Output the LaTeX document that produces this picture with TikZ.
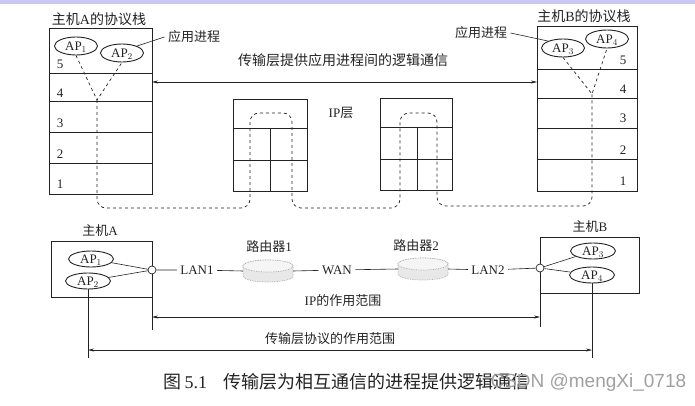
\documentclass[tikz,border=0pt]{standalone}
\usepackage{fontspec}
\setmainfont{Liberation Serif}
\newfontfamily\cjk{Noto Sans CJK SC}
\newfontfamily\wmfont{Liberation Sans}
\usetikzlibrary{shapes.geometric,arrows.meta}
\definecolor{topbar}{RGB}{200,200,242}
\definecolor{ink}{RGB}{35,35,35}
\definecolor{wmark}{RGB}{160,160,160}

\begin{document}
\begin{tikzpicture}[x=1pt,y=-1pt,color=ink,
  box/.style={draw=ink, line width=1pt},
  sep/.style={draw=ink, line width=0.6pt},
  ap/.style={draw=ink, ellipse, line width=0.9pt, inner sep=0pt,
    minimum width=43pt, minimum height=18pt, text height=8.5pt, text depth=0pt,
    font=\fontsize{13}{13}\selectfont},
  apl/.style={ap, minimum width=45pt, minimum height=16pt},
  num/.style={font=\fontsize{13}{13}\selectfont},
  net/.style={font=\fontsize{13}{13}\selectfont},
  lbl/.style={font=\fontsize{14}{14}\selectfont\cjk},
  slbl/.style={font=\fontsize{13}{13}\selectfont\cjk},
  captxt/.style={font=\fontsize{18}{18}\selectfont\cjk, anchor=west},
  vee/.style={draw=ink, dashed, line width=0.7pt},
  route/.style={vee, rounded corners=9pt},
  rng/.style={draw=ink, line width=0.6pt,
    {Stealth[length=6pt,width=3pt]}-{Stealth[length=6pt,width=3pt]}},
  joint/.style={draw=ink, circle, fill=white, inner sep=0pt, minimum size=8pt, line width=0.7pt},
  router/.pic={
    \path[fill=gray!18, draw=gray!70, densely dotted, line width=0.7pt]
      (-25pt,5pt) -- (-25pt,-5pt) arc (180:360:25pt and 6pt) -- (25pt,5pt)
      arc (0:180:25pt and 6pt) -- cycle;
    \path[fill=gray!8, draw=gray!70, densely dotted, line width=0.7pt]
      (0pt,5pt) ellipse (25pt and 6pt);
    \coordinate (-w) at (-25pt,0pt);
    \coordinate (-e) at (25pt,0pt);
  }]
\useasboundingbox (0,0) rectangle (695,406);
\fill[topbar] (0,0) rectangle (695,4);

% 主机A的协议栈
\node[lbl] (titleA) at (99,19) {主机{\rmfamily A}的协议栈};
\draw[box] (49,29) rectangle (152,194);
\foreach \y in {73,101,132,163} \draw[sep] (49,\y) -- (152,\y);
\foreach \n/\y in {5/64,4/93,3/123,2/154,1/184} \node[num] at (60,\y) {\n};
\node[ap] (apA1) at (76,46) {AP$_1$};
\node[ap] (apA2) at (122,53) {AP$_2$};
\node[slbl] (procA) at (194,37) {应用进程};
\draw[sep] (procA.west) -- (apA2.25);
\coordinate (vA) at (97,100);
\draw[vee] (apA1.south) -- (vA) -- (apA2.south);

% 主机B的协议栈
\node[lbl] (titleB) at (584,16) {主机{\rmfamily B}的协议栈};
\draw[box] (537,27) rectangle (637,191);
\foreach \y in {69,98,128,159} \draw[sep] (537,\y) -- (637,\y);
\foreach \n/\y in {5/60,4/89,3/118,2/150,1/181} \node[num] at (623,\y) {\n};
\node[ap] (apB3) at (563,48) {AP$_3$};
\node[ap] (apB4) at (607,39) {AP$_4$};
\node[slbl] (procB) at (481,33) {应用进程};
\draw[sep] (procB.east) -- (apB3.155);
\coordinate (vB) at (592,94);
\draw[vee] (apB3.south) -- (vB) -- (apB4.south);

% 逻辑通信
\coordinate (lcA) at (152,82);
\coordinate (lcB) at (537,82);
\draw[rng] (lcA) -- (lcB);
\node[lbl] (logic) at (343,60) {传输层提供应用进程间的逻辑通信};

% 两个路由器的IP层
\draw[box] (233,100) rectangle (307,191);
\draw[sep] (233,128) -- (307,128) (233,160) -- (307,160) (270,128) -- (270,191);
\draw[box] (380,99) rectangle (452,190);
\draw[sep] (380,127) -- (452,127) (380,159) -- (452,159) (417,127) -- (417,190);
\node[slbl] (iplayer) at (341,113) {{\rmfamily IP}层};
\draw[route] (vA) -- (97,208) -- (250,208) -- (250,113) -- (292,113) -- (292,208)
  -- (400,208) -- (400,113) -- (437,113) -- (437,206) -- (592,206) -- (vB);

% 主机A
\node[slbl] (hostA) at (100,231) {主机{\rmfamily A}};
\draw[box] (51,241) rectangle (152,297);
\node[apl] (lapA1) at (91,259) {AP$_1$};
\node[apl] (lapA2) at (88,281) {AP$_2$};
\node[joint] (jA) at (152,270) {};
\draw[sep] (lapA1) -- (jA);
\draw[sep] (lapA2) -- (jA);

% 网络
\node[net] (lan1) at (197,270) {LAN1};
\pic (r1) at (268,271) {router};
\node[slbl] (r1lab) at (269,247) {路由器{\rmfamily 1}};
\node[net] (wan) at (337,270) {WAN};
\pic (r2) at (423,269) {router};
\node[slbl] (r2lab) at (416,246) {路由器{\rmfamily 2}};
\node[net] (lan2) at (488,270) {LAN2};
\draw[sep] (jA) -- (lan1) -- (r1-w);
\draw[sep] (r1-e) -- (wan) -- (r2-w);

% 主机B
\node[slbl] (hostB) at (590,227) {主机{\rmfamily B}};
\draw[box] (540,237) rectangle (639,293);
\node[apl] (lapB3) at (593,251) {AP$_3$};
\node[apl] (lapB4) at (592,275) {AP$_4$};
\node[joint] (jB) at (540,268) {};
\draw[sep] (r2-e) -- (lan2) -- (jB);
\draw[sep] (jB) -- (lapB3);
\draw[sep] (jB) -- (lapB4);

% 作用范围
\coordinate (ipA) at (152,330);
\coordinate (ipB) at (540,327);
\coordinate (tpA) at (88,358);
\coordinate (tpB) at (592,358);
\draw[sep] (jA) -- (ipA);
\draw[sep] (jB) -- (ipB);
\draw[sep] (lapA2) -- (tpA);
\draw[sep] (lapB4) -- (tpB);
\coordinate (ipL) at (152,317);
\coordinate (ipR) at (540,317);
\draw[rng] (ipL) -- (ipR);
\node[slbl] (iprange) at (343,301) {{\rmfamily IP}的作用范围};
\coordinate (tpL) at (88,350);
\coordinate (tpR) at (592,350);
\draw[rng] (tpL) -- (tpR);
\node[slbl] (tprange) at (330,339) {传输层协议的作用范围};

% 图题
\node[captxt] (capnum) at (160,382) {图\,{\rmfamily 5.1}};
\node[captxt] (captext) at (220,382) {传输层为相互通信的进程提供逻辑通信};
\node[anchor=west, text=wmark, font=\fontsize{19}{19}\selectfont\wmfont] (wm) at (487,383) {CSDN @mengXi\_0718};
\end{tikzpicture}
\end{document}
